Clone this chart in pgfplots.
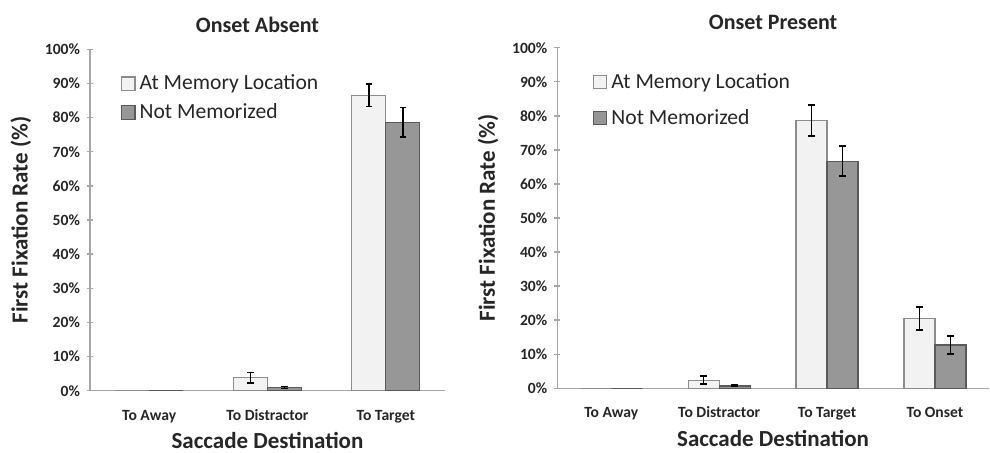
\documentclass[border=0pt]{standalone}
\usepackage{pgfplots}
\pgfplotsset{compat=1.18}
\usepackage{fontspec}
\setmainfont{Carlito}
\definecolor{lightbar}{HTML}{F2F2F2}
\definecolor{lightedge}{HTML}{8C8C8C}
\definecolor{darkbar}{HTML}{979797}
\definecolor{darkedge}{HTML}{5A5A5A}
\definecolor{axgray}{HTML}{A6A6A6}
\pgfplotsset{
  common/.style={
    scale only axis,
    anchor=south west,
    ymin=0, ymax=100,
    ytick={0,10,...,100},
    yticklabels={0\%,10\%,20\%,30\%,40\%,50\%,60\%,70\%,80\%,90\%,100\%},
    axis x line*=bottom, axis y line*=left,
    axis line style={axgray, line width=0.7pt},
    every tick/.style={axgray, line width=0.7pt},
    major tick length=3pt,
    minor tick length=3pt,
    tick align=center,
    xtick={1,2,3,4},
    x tick style={draw=none},
    tick label style={font=\bfseries\fontsize{7.8}{9}\selectfont, text=black!85},
    xticklabel style={text height=1.6ex, text depth=0.4ex, yshift=-0.5pt},
    ylabel={First Fixation Rate (\%)},
    xlabel={Saccade Destination},
    label style={font=\bfseries\fontsize{11.5}{13}\selectfont, text=black!85},
    title style={font=\bfseries\fontsize{11}{13}\selectfont, text=black!85},
    xlabel style={yshift=0.3pt, inner sep=1pt},
    ylabel style={yshift=0pt},
    legend cell align=left,
    legend style={draw=none, fill=none, font=\fontsize{10.8}{12}\selectfont, text=black!85,
      anchor=north west, row sep=1.5pt},
    ybar=0pt,
  },
  errstyle/.style={
    error bars/y dir=both, error bars/y explicit,
    error bars/error bar style={black, line width=0.8pt},
    error bars/error mark options={rotate=90, black, mark size=1.6pt, line width=0.8pt}},
  boxlegend/.style={legend image code/.code={\draw[##1, line width=0.6pt] (0pt,-3.4pt) rectangle (6.6pt,3.4pt);}},
  lightplot/.style={fill=lightbar, draw=lightedge, line width=0.6pt, bar width=17pt, bar shift=-8.5pt, boxlegend},
  darkplot/.style={fill=darkbar, draw=darkedge, line width=0.6pt, bar width=17pt, bar shift=8.5pt, boxlegend},
}
\begin{document}
\begin{tikzpicture}
\path[use as bounding box] (0,0) rectangle (495pt,226.5pt);
% Left panel
\begin{axis}[common,
  at={(45pt,31.15pt)}, width=177.5pt, height=170.7pt,
  xmin=0.5, xmax=3.5,
  minor xtick={1.5,2.5,3.5},
  xticklabels={To Away,To Distractor,To Target},
  title={Onset Absent},
  title style={xshift=-5pt, yshift=-1pt},
  legend style={at={(axis description cs:0.07,0.95)}},
]
\addplot[lightplot, errstyle] coordinates {(2,3.8) +- (0,1.5) (3,86.5) +- (0,3.3)};
\addlegendentry{At Memory Location}
\addplot[darkplot, errstyle] coordinates {(2,0.9) +- (0,0.3) (3,78.6) +- (0,4.3)};
\addlegendentry{Not Memorized}
\addplot[lightplot, forget plot] coordinates {(1,0)};
\addplot[darkplot, forget plot] coordinates {(1,0)};
\end{axis}
% Right panel
\begin{axis}[common,
  at={(278.65pt,32.35pt)}, width=215.8pt, height=170.3pt,
  xmin=0.5, xmax=4.5,
  minor xtick={1.5,2.5,3.5,4.5},
  xticklabels={To Away,To Distractor,To Target,To Onset},
  title={Onset Present},
  title style={yshift=-0.5pt},
  legend style={at={(axis description cs:0.068,0.95)}, row sep=5pt},
]
\addplot[lightplot, errstyle, bar width=15.5pt, bar shift=-7.75pt] coordinates {(2,2.4) +- (0,1.2) (3,78.6) +- (0,4.5) (4,20.5) +- (0,3.4)};
\addlegendentry{At Memory Location}
\addplot[darkplot, errstyle, bar width=15.5pt, bar shift=7.75pt] coordinates {(2,0.7) +- (0,0.2) (3,66.7) +- (0,4.4) (4,12.7) +- (0,2.6)};
\addlegendentry{Not Memorized}
\addplot[lightplot, bar width=15.5pt, bar shift=-7.75pt, forget plot] coordinates {(1,0)};
\addplot[darkplot, bar width=15.5pt, bar shift=7.75pt, forget plot] coordinates {(1,0)};
\end{axis}
\end{tikzpicture}
\end{document}
